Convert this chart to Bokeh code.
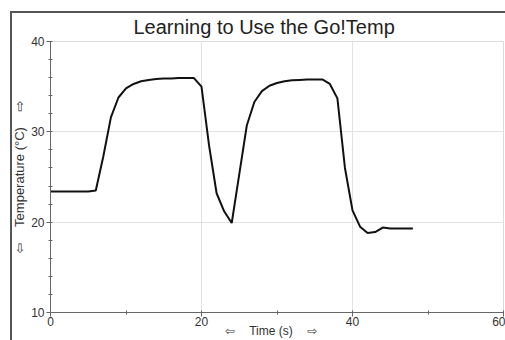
from bokeh.plotting import figure
from bokeh.models import SingleIntervalTicker, Range1d, InlineStyleSheet
from bokeh.embed import file_html
from bokeh.resources import INLINE

title_text = "Learning to Use the Go!Temp"
x_label = "\u21e6\u2003\u2009Time (s)\u2003\u2009\u21e8\u2003"
y_label = "\u21e6\u2003\u2009Temperature (\u00b0C)\u2003\u2009\u21e8"

time_s = [0, 1, 2, 3, 4, 5, 6, 7, 8, 9, 10, 11, 12, 13, 14, 15, 16, 17, 18, 19,
          20, 21, 22, 23, 24, 25, 26, 27, 28, 29, 30, 31, 32, 33, 34, 35, 36, 37,
          38, 39, 40, 41, 42, 43, 44, 45, 46, 47, 48]
temp_c = [23.4, 23.4, 23.4, 23.4, 23.4, 23.4, 23.5, 27.3, 31.6, 33.8, 34.8, 35.3,
          35.6, 35.75, 35.85, 35.9, 35.9, 35.95, 35.95, 35.95, 35.0, 28.5, 23.2,
          21.2, 19.9, 25.3, 30.7, 33.3, 34.5, 35.1, 35.4, 35.6, 35.7, 35.75, 35.8,
          35.8, 35.8, 35.3, 33.7, 26.0, 21.3, 19.5, 18.8, 18.9, 19.4, 19.3, 19.3,
          19.3, 19.3]

FONT = "Liberation Sans"
LABEL_FONT = "Liberation Sans, DejaVu Sans"

p = figure(width=505, height=340, output_backend="svg", toolbar_location=None,
           x_range=Range1d(0, 60), y_range=Range1d(10, 40),
           min_border_left=50, min_border_right=2, min_border_top=41,
           min_border_bottom=27)

p.line(time_s, temp_c, line_color="#111111", line_width=2)

xt = SingleIntervalTicker(interval=20, num_minor_ticks=2)
yt = SingleIntervalTicker(interval=10, num_minor_ticks=5)
p.xaxis.ticker = xt
p.yaxis.ticker = yt
p.xgrid.ticker = xt
p.ygrid.ticker = yt
p.grid.grid_line_color = "#e2e2e2"
p.grid.grid_line_width = 1
p.outline_line_color = "#dcdcdc"

for ax in (p.xaxis[0], p.yaxis[0]):
    ax.axis_line_color = "#666666"
    ax.major_tick_line_color = "#666666"
    ax.minor_tick_line_color = "#666666"
    ax.major_label_text_font = FONT
    ax.major_label_text_font_size = "12px"
    ax.major_label_text_color = "#333333"
    ax.major_tick_out = 4
    ax.major_tick_in = 0
    ax.minor_tick_out = 2
    ax.minor_tick_in = 2
    ax.major_label_standoff = 2

p.xaxis.major_label_standoff = 0
p.xaxis.axis_label = x_label
p.xaxis.axis_label_text_font = LABEL_FONT
p.xaxis.axis_label_text_font_size = "12px"
p.xaxis.axis_label_text_font_style = "normal"
p.xaxis.axis_label_text_color = "#333333"
p.xaxis.axis_label_standoff = -5

p.yaxis.axis_label = y_label
p.yaxis.axis_label_text_font = LABEL_FONT
p.yaxis.axis_label_text_font_size = "13px"
p.yaxis.axis_label_text_font_style = "normal"
p.yaxis.axis_label_text_color = "#333333"
p.yaxis.axis_label_standoff = 1

p.title.text = title_text
p.title.align = "left"
p.title.offset = 83
p.title.text_font = FONT
p.title.text_font_size = "20px"
p.title.text_font_style = "normal"
p.title.text_color = "#222222"
p.title.standoff = 7

p.stylesheets = [InlineStyleSheet(css="""
:host::after {
  content: "";
  position: absolute;
  left: 10px; top: 11px; right: 0; bottom: 0;
  border-left: 2px solid #555555;
  border-top: 2px solid #555555;
  pointer-events: none;
}
""")]

open("out.html", "w").write(file_html(p, INLINE))
